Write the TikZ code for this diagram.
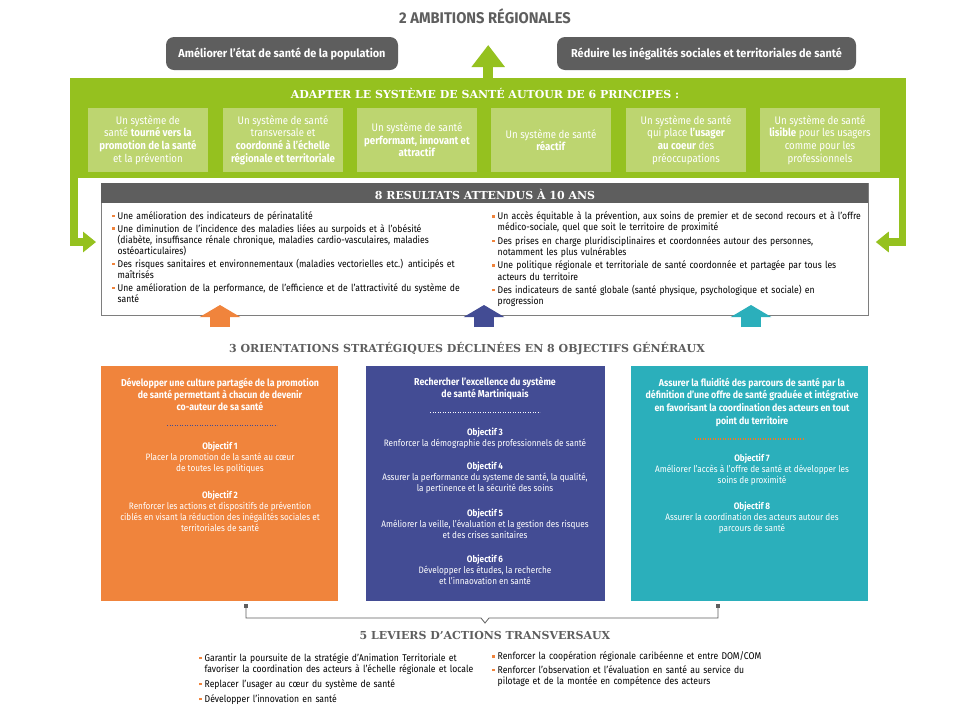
\documentclass[tikz,border=0pt]{standalone}
\usepackage{fontspec}
\setmainfont{Fira Sans}[FakeStretch=0.88]
\newfontfamily\widef{Fira Sans}[FakeStretch=0.95]
\newfontfamily\slab{DejaVu Serif}
\usetikzlibrary{arrows.meta}
\definecolor{gr}{HTML}{95C11F}
\definecolor{lgr}{HTML}{BDD570}
\definecolor{dg}{HTML}{5E5E5E}
\definecolor{org}{HTML}{F0843C}
\definecolor{pur}{HTML}{434C94}
\definecolor{tea}{HTML}{2BAFBB}
\definecolor{bul}{HTML}{F0843C}
\definecolor{dotorg}{HTML}{F57A20}
\newcommand\bul{\makebox[5.5pt][l]{\textcolor{bul}{\rule[2.2pt]{2.4pt}{2.4pt}}}}
\newcommand\itm[1]{\par\noindent\hangindent=5.5pt\hangafter=1\bul#1\par}
\begin{document}
\begin{tikzpicture}[x=1pt,y=-1pt,
  pill/.style={fill=dg, rounded corners=8pt, text=white, font=\widef\bfseries\fontsize{11.5}{12}\selectfont, inner sep=0pt},
  princ/.style={fill=lgr, minimum width=120pt, minimum height=64pt, inner sep=0pt, text=white},
  ptext/.style={text=white, align=center, font=\fontsize{11}{12.6}\selectfont},
  slabhead/.style={font=\slab\bfseries\fontsize{11}{12}\selectfont},
  bodytxt/.style={font=\fontsize{9.8}{11.1}\selectfont, text width=#1, inner sep=0pt, anchor=north west},
  ohead/.style={text=white, align=center, font=\bfseries\fontsize{10}{12.2}\selectfont},
  otxt/.style={text=white, align=center, font=\fontsize{9.3}{11}\selectfont},
  dots/.style={line width=1pt, dash pattern=on 0.7pt off 1.8pt}
]
\useasboundingbox (0,0) rectangle (970,716);
\fill[white] (0,0) rectangle (970,716);

% title
\node[font=\widef\bfseries\fontsize{15.5}{16}\selectfont, text=dg] (t1) at (485,16) {2 AMBITIONS RÉGIONALES};
\node[pill, minimum width=232pt, minimum height=33pt] (a1) at (282,53.5) {Améliorer l’état de santé de la population};
\node[pill, minimum width=299pt, minimum height=33pt] (a2) at (706.5,53.5) {Réduire les inégalités sociales et territoriales de santé};

% green band
\node[fill=gr, minimum width=836pt, minimum height=100pt, anchor=north west, inner sep=0pt] (band) at (70,78) {};
\draw[gr, line width=10pt, -{Triangle[width=32pt,length=22pt]}] (band.north) -- ++(0,-33) coordinate (uptip);
\node[slabhead, text=white] (bandh) at (485,93) {ADAPTER LE SYSTÈME DE SANTÉ AUTOUR DE 6 PRINCIPES :};

\node[princ] (p1) at (148,140) {};
\node[princ] (p2) at (283,140) {};
\node[princ] (p3) at (417,140) {};
\node[princ] (p4) at (551,140) {};
\node[princ] (p5) at (686,140) {};
\node[princ] (p6) at (820,140) {};
\node[ptext] (pt1) at (p1) {Un système de\\santé \textbf{tourné vers la}\\\textbf{promotion de la santé}\\et la prévention};
\node[ptext] (pt2) at (p2) {Un système de santé\\transversale et\\\textbf{coordonné à l’échelle}\\\textbf{régionale et territoriale}};
\node[ptext] (pt3) at (p3) {Un système de santé\\\textbf{performant, innovant et}\\\textbf{attractif}};
\node[ptext] (pt4) at (p4) {Un système de santé\\\textbf{réactif}};
\node[ptext] (pt5) at (p5) {Un système de santé\\qui place \textbf{l’usager}\\\textbf{au coeur} des\\préoccupations};
\node[ptext] (pt6) at (p6) {Un système de santé\\\textbf{lisible} pour les usagers\\comme pour les\\professionnels};

% results box
\node[draw=dg!80, line width=0.8pt, fill=white, minimum width=767pt, minimum height=132pt, anchor=north west, inner sep=0pt] (res) at (101,183) {};
\fill[dg] (101,183) rectangle (868,203);
\node[slabhead, text=white] (resh) at (485,194) {8 RESULTATS ATTENDUS À 10 ANS};

% side arrows
\coordinate (lstart) at (73.75,175);
\coordinate (rstart) at (902.25,175);
\draw[gr, line width=7.5pt, -{Triangle[width=20pt,length=13pt]}] (lstart) |- ([xshift=-5pt]res.west |- 0,242);
\draw[gr, line width=7.5pt, -{Triangle[width=20pt,length=13pt]}] (rstart) |- ([xshift=7pt]res.east |- 0,242);

\node[bodytxt=370pt] (rl) at (112,206) {\raggedright\setlength\parskip{1.8pt}%
\itm{Une amélioration des indicateurs de périnatalité}
\itm{Une diminution de l’incidence des maladies liées au surpoids et à l’obésité\newline(diabète, insuffisance rénale chronique, maladies cardio-vasculaires, maladies\newline ostéoarticulaires)}
\itm{Des risques sanitaires et environnementaux (maladies vectorielles etc.) anticipés et\newline maîtrisés}
\itm{Une amélioration de la performance, de l’efficience et de l’attractivité du système de\newline santé}};
\node[bodytxt=375pt] (rr) at (492,206) {\raggedright\setlength\parskip{2.4pt}%
\itm{Un accès équitable à la prévention, aux soins de premier et de second recours et à l’offre\newline médico-sociale, quel que soit le territoire de proximité}
\itm{Des prises en charge pluridisciplinaires et coordonnées autour des personnes,\newline notamment les plus vulnérables}
\itm{Une politique régionale et territoriale de santé coordonnée et partagée par tous les\newline acteurs du territoire}
\itm{Des indicateurs de santé globale (santé physique, psychologique et sociale) en\newline progression}};

% orientation boxes
\node[slabhead, text=dg] (orh) at (467,349) {3 ORIENTATIONS STRATÉGIQUES DÉCLINÉES EN 8 OBJECTIFS GÉNÉRAUX};
\node[fill=org, minimum width=237pt, minimum height=235pt, anchor=north west, inner sep=0pt] (o1) at (101,366) {};
\node[fill=pur, minimum width=239pt, minimum height=235pt, anchor=north west, inner sep=0pt] (o2) at (366,366) {};
\node[fill=tea, minimum width=237pt, minimum height=235pt, anchor=north west, inner sep=0pt] (o3) at (631,366) {};

% small up arrows
\draw[org, line width=20pt, -{Triangle[width=40pt,length=12pt]}] (220,327) -- (220,305);
\draw[pur, line width=20pt, -{Triangle[width=40pt,length=12pt]}] (484,327) -- (484,305);
\draw[tea, line width=20pt, -{Triangle[width=40pt,length=12pt]}] (751,327) -- (751,305);

% orange content
\node[ohead] (o1h) at (220,394.5) {Développer une culture partagée de la promotion\\de santé permettant à chacun de devenir\\co-auteur de sa santé};
\draw[dots, pur] (167,425) -- (277,425);
\node[otxt] (o1a) at (220,458) {\textbf{Objectif 1}\\Placer la promotion de la santé au cœur\\de toutes les politiques};
\node[otxt] (o1b) at (220,511.5) {\textbf{Objectif 2}\\Renforcer les actions et dispositifs de prévention\\ciblés en visant la réduction des inégalités sociales et\\territoriales de santé};

% purple content
\node[ohead] (o2h) at (485,388.5) {Rechercher l’excellence du système\\de santé Martiniquais};
\draw[dots, white] (430,412) -- (540,412);
\node[otxt] (o2a) at (485,438.5) {\textbf{Objectif 3}\\Renforcer la démographie des professionnels de santé};
\node[otxt] (o2b) at (485,478) {\textbf{Objectif 4}\\Assurer la performance du systeme de santé, la qualité,\\la pertinence et la sécurité des soins};
\node[otxt] (o2c) at (485,524) {\textbf{Objectif 5}\\Améliorer la veille, l’évaluation et la gestion des risques\\et des crises sanitaires};
\node[otxt] (o2d) at (485,570) {\textbf{Objectif 6}\\Développer les études, la recherche\\et l’innaovation en santé};

% teal content
\node[ohead, font=\bfseries\fontsize{10}{12.7}\selectfont] (o3h) at (752,402) {Assurer la fluidité des parcours de santé par la\\définition d’une offre de santé graduée et intégrative\\en favorisant la coordination des acteurs en tout\\point du territoire};
\draw[dots, dotorg, line width=1.4pt, dash pattern=on 0.9pt off 1.6pt] (695,439) -- (805,439);
\node[otxt] (o3a) at (752,470) {\textbf{Objectif 7}\\Améliorer l’accès à l’offre de santé et développer les\\soins de proximité};
\node[otxt] (o3b) at (752,518) {\textbf{Objectif 8}\\Assurer la coordination des acteurs autour des\\parcours de santé};

% bracket
\coordinate (bl) at (246,606);
\coordinate (br) at (718,606);
\draw[dg, line width=0.8pt] (bl) -- (246,618) -- (481,618) -- (485,623) -- (489,618) -- (718,618) -- (br);
\fill[dg] ([xshift=-1.8pt,yshift=-1.8pt]bl) rectangle ([xshift=1.8pt,yshift=1.8pt]bl);
\fill[dg] ([xshift=-1.8pt,yshift=-1.8pt]br) rectangle ([xshift=1.8pt,yshift=1.8pt]br);

\node[slabhead, text=dg] (levh) at (485,635) {5 LEVIERS D’ACTIONS TRANSVERSAUX};
\node[bodytxt=290pt] (ll) at (199,646) {\raggedright\setlength\parskip{4pt}%
\itm{Garantir la poursuite de la stratégie d’Animation Territoriale et\newline favoriser la coordination des acteurs à l’échelle régionale et locale}
\itm{Replacer l’usager au cœur du système de santé}
\itm{Développer l’innovation en santé}};
\node[bodytxt=300pt] (lr) at (492,646) {\raggedright\setlength\parskip{2.5pt}%
\itm{Renforcer la coopération régionale caribéenne et entre DOM/COM}
\itm{Renforcer l’observation et l’évaluation en santé au service du\newline pilotage et de la montée en compétence des acteurs}};
\end{tikzpicture}
\end{document}
